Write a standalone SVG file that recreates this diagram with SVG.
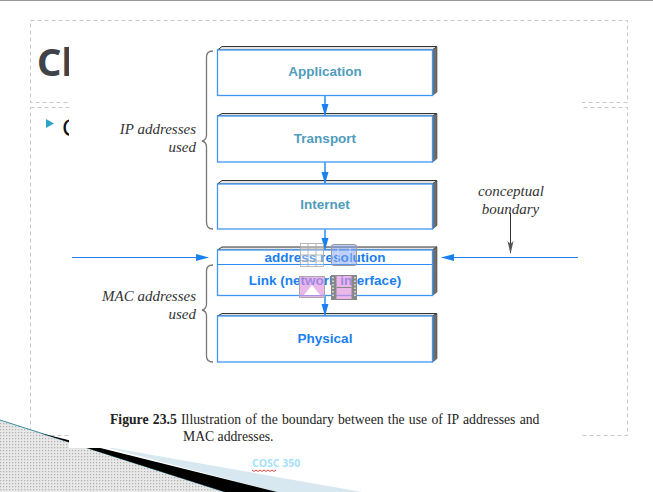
<svg xmlns="http://www.w3.org/2000/svg" width="653" height="492" viewBox="0 0 653 492">
<style>
.dash{fill:none;stroke:#c8c8c8;stroke-width:1;stroke-dasharray:4 3}
.top{fill:#e4e4e4;stroke:#333;stroke-width:1}
.side{fill:#6e6e6e;stroke:#444;stroke-width:.6}
.box{fill:#fff;stroke:#3f97f5;stroke-width:1.3}
.lab{font:bold 13.500px "Liberation Sans",Arial,sans-serif;text-anchor:middle}
.teal{fill:#4f9cbc}
.blue{fill:#1a80f0}
.it{font:italic 15px "Liberation Serif","Times New Roman",serif;fill:#333}
.cap{font:13.700px "Liberation Serif","Times New Roman",serif;fill:#222}
.brace{fill:none;stroke:#777;stroke-width:1.3}
.conn{stroke:#4aa0f5;stroke-width:1.800;fill:none}
.bound{stroke:#2a80e8;stroke-width:1.1;fill:none}
</style>
<defs>
<pattern id="hatch" width="3" height="3" patternUnits="userSpaceOnUse">
<rect width="3" height="3" fill="#e8e8e8"/><rect width="1.2" height="1.2" fill="#b0b0b0"/>
</pattern>
<marker id="ah" markerWidth="12" markerHeight="8" refX="11.500" refY="4" orient="auto" markerUnits="userSpaceOnUse"><path d="M0 .5L12 4L0 7.500Z" fill="#1a80f0"/></marker>
<marker id="hh" markerWidth="13" markerHeight="8" refX="12" refY="4" orient="auto" markerUnits="userSpaceOnUse"><path d="M0 .5L13 4L0 7.500Z" fill="#1a80f0"/></marker>
<marker id="gh" markerWidth="13" markerHeight="7" refX="12" refY="3.500" orient="auto" markerUnits="userSpaceOnUse"><path d="M0 .5L13 3.500L0 6.500L3 3.500Z" fill="#555"/></marker>
</defs>

<rect width="653" height="492" fill="#fff"/>
<rect width="653" height="1" fill="#999"/>

<g id="slide-frame">
<rect class="dash" x="30.500" y="20.500" width="597" height="82"/>
<rect class="dash" x="30.500" y="107.500" width="597" height="328"/>
</g>

<g id="slide-title">
<text x="37" y="76" font-family="Noto Sans,Open Sans,sans-serif" font-weight="bold" font-size="38" fill="#404448">Cl</text>
<path d="M46 119L54 123.500L46 128Z" fill="#2ea3c8"/>
<text x="62" y="136" font-family="Noto Sans,Open Sans,sans-serif" font-size="24" fill="#111">C</text>
</g>

<g id="footer-band">
<path d="M0 420L225 492H0Z" fill="url(#hatch)"/>
<path d="M0 420L225 492" stroke="#3f8ea3" stroke-width="1" fill="none"/>
<path d="M100 445.700L362 492H277Z" fill="#d8e8f0"/>
<path d="M40 433L277 492H225Z" fill="#000"/>
</g>

<rect id="figure-background" x="69" y="26" width="513" height="422" fill="#fff"/>

<g id="braces">
<path class="brace" d="M213 51Q206.500 51 206.500 57V135Q206.500 140 202 141Q206.500 142 206.500 147V222Q206.500 229 213 229"/>
<path class="brace" d="M213 265Q206.500 265 206.500 271V304Q206.500 309 202 310Q206.500 311 206.500 316V356Q206.500 362 213 362"/>
</g>

<g id="node-application">
<path class="top" d="M217.500 50L222 46.500H437L432.500 50Z"/>
<path class="side" d="M432.500 50L437 46.500V92L432.500 95.500Z"/>
<rect class="box" x="217.500" y="50" width="215" height="45.500"/>
<text class="lab teal" x="325" y="75.500">Application</text>
</g>
<g id="node-transport">
<path class="top" d="M217.500 116L222 113.500H437L432.500 116Z"/>
<path class="side" d="M432.500 116L437 113.500V158.500L432.500 162Z"/>
<rect class="box" x="217.500" y="116" width="215" height="46"/>
<text class="lab teal" x="325" y="142.500">Transport</text>
</g>
<g id="node-internet">
<path class="top" d="M217.500 184L222 180.500H437L432.500 184Z"/>
<path class="side" d="M432.500 184L437 180.500V225.500L432.500 229Z"/>
<rect class="box" x="217.500" y="184" width="215" height="45"/>
<text class="lab teal" x="325" y="208.500">Internet</text>
</g>
<g id="node-link">
<path class="top" d="M217.500 250L222 247H437L432.500 250Z"/>
<path class="side" d="M432.500 250L437 247V292L432.500 295.500Z"/>
<rect class="box" x="217.500" y="250" width="215" height="45.500"/>
<path d="M217.500 264.500H432.500" stroke="#2a8cf5" stroke-width="1.200"/>
<text class="lab blue" x="325" y="261.500">address resolution</text>
<text class="lab blue" x="325" y="285">Link (network interface)</text>
</g>
<g id="node-physical">
<path class="top" d="M217.500 316L222 313.500H437L432.500 316Z"/>
<path class="side" d="M432.500 316L437 313.500V358.500L432.500 362Z"/>
<rect class="box" x="217.500" y="316" width="215" height="46"/>
<text class="lab blue" x="325" y="342.500">Physical</text>
</g>

<g id="connectors">
<path class="conn" d="M325 95.500V115.500" marker-end="url(#ah)"/>
<path class="conn" d="M325 162V183.500" marker-end="url(#ah)"/>
<path class="conn" d="M325 229V249.500" marker-end="url(#ah)"/>
<path class="conn" d="M325 295.500V315.500" marker-end="url(#ah)"/>
<path class="bound" d="M72 257.500H208" marker-end="url(#hh)"/>
<path class="bound" d="M578 257.500H442" marker-end="url(#hh)"/>
<path d="M510.500 213V253" stroke="#333" stroke-width="1" fill="none" marker-end="url(#gh)"/>
</g>

<g id="placeholder-icons">
<g fill="none" stroke="#a8a8a8" stroke-width=".8">
<rect x="300.500" y="243.500" width="23" height="23" fill="#fff" fill-opacity=".3"/>
<path d="M308 243.500V266.500M316 243.500V266.500M300.500 249H323.500M300.500 255H323.500M300.500 261H323.500"/>
</g>
<rect x="331.500" y="244.500" width="25" height="21" rx="2" fill="#7f9ff0" fill-opacity=".5" stroke="#999"/>
<path d="M338 248V264M350 248V264" stroke="#dfe6fb" stroke-width=".8"/>
<rect x="299.500" y="276.500" width="25" height="21" fill="#e08fdc" fill-opacity=".65" stroke="#aaa"/>
<path d="M304 295L312 285L320 295Z" fill="#fff"/>
<rect x="331.500" y="275.500" width="25" height="24" fill="#e08fdc" fill-opacity=".65" stroke="#888"/>
<path d="M331.500 275.500h5v24h-5zM351.500 275.500h5v24h-5z" fill="#888"/>
<path d="M333 277v20M355 277v20" stroke="#fff" stroke-dasharray="1.500 2" stroke-width="1.200"/>
<path d="M336.500 287.500H351.500" stroke="#888"/>
</g>

<g id="labels">
<text class="it" x="196" y="134" text-anchor="end">IP addresses</text>
<text class="it" x="196" y="152" text-anchor="end">used</text>
<text class="it" x="196" y="301" text-anchor="end">MAC addresses</text>
<text class="it" x="196" y="319" text-anchor="end">used</text>
<text class="it" x="511" y="196" text-anchor="middle">conceptual</text>
<text class="it" x="510.500" y="214" text-anchor="middle">boundary</text>
<text class="cap" x="110" y="424" word-spacing=".85"><tspan font-weight="bold">Figure 23.5</tspan> Illustration of the boundary between the use of IP addresses and</text>
<text class="cap" x="183" y="441">MAC addresses.</text>
</g>

<g id="footer-text">
<text x="252" y="467" font-family="Open Sans,Noto Sans,sans-serif" font-weight="bold" font-size="10.500" fill="#a6e0fb">COSC 350</text>
<path d="M252 470l2 1.500 2-1.500 2 1.500 2-1.500 2 1.500 2-1.500 2 1.500 2-1.500 2 1.500 2-1.500 2 1.500 2-1.500" fill="none" stroke="#e03030" stroke-width=".9"/>
</g>
</svg>
